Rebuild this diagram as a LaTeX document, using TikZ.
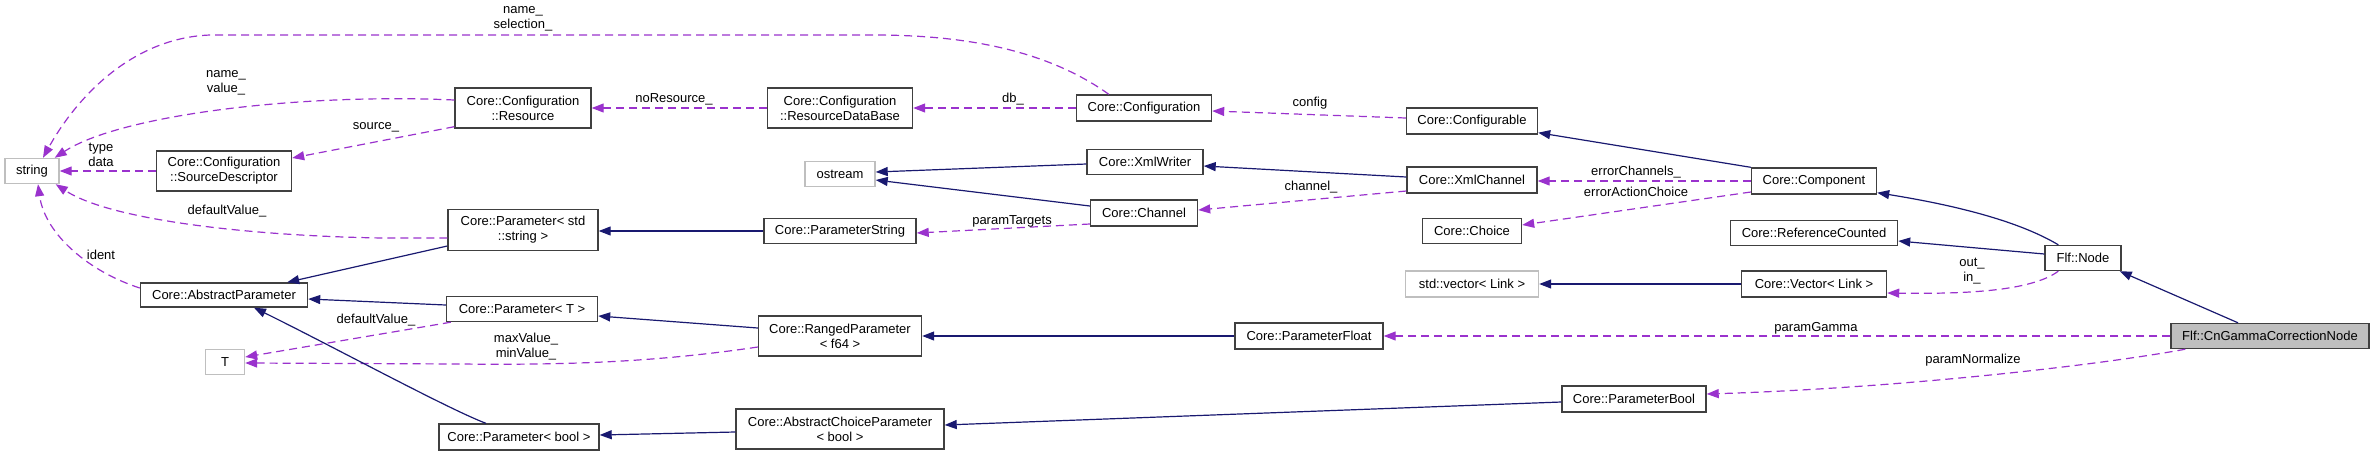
\documentclass[tikz,border=0pt]{standalone}
\usepackage{fontspec}
\setmainfont{Liberation Sans}
\usetikzlibrary{arrows.meta,calc}
\definecolor{inhcol}{RGB}{25,25,112}
\definecolor{usecol}{RGB}{154,50,205}
\definecolor{boxgray}{RGB}{191,191,191}
\definecolor{boxline}{RGB}{64,64,64}
\tikzset{
  box/.style={draw=boxline, line width=1.4pt, fill=white, inner sep=0pt, align=center,
    font=\fontsize{13}{15}\selectfont},
  extbox/.style={box, draw=boxgray},
  mainbox/.style={box, fill=boxgray},
  inh/.style={draw=inhcol, line width=1.2pt, -{Triangle[length=12pt,width=9pt]}},
  use/.style={draw=usecol, line width=1.2pt, dash pattern=on 8pt off 5pt,
    -{Triangle[length=12pt,width=9pt]}},
  lbl/.style={inner sep=0pt, align=center, font=\fontsize{13}{15}\selectfont}
}
\begin{document}
\begin{tikzpicture}[x=1pt,y=-1pt]
\useasboundingbox (0,0) rectangle (2375,456);
% nodes
\node[extbox, minimum width=54, minimum height=25] (str) at (32,171) {string};
\node[box, minimum width=135, minimum height=40] (sd) at (224,171) {Core::Configuration\\::SourceDescriptor};
\node[box, minimum width=136, minimum height=40] (res) at (523,108) {Core::Configuration\\::Resource};
\node[box, minimum width=150, minimum height=41] (pstr) at (523,230) {Core::Parameter< std\\::string >};
\node[box, minimum width=167, minimum height=24] (ap) at (224,295) {Core::AbstractParameter};
\node[box, minimum width=151, minimum height=25] (pt) at (522,309) {Core::Parameter< T >};
\node[extbox, minimum width=39, minimum height=25] (T) at (225,362) {T};
\node[box, minimum width=160, minimum height=26] (pb) at (519,437) {Core::Parameter< bool >};
\node[box, minimum width=145, minimum height=40] (rdb) at (840,108) {Core::Configuration\\::ResourceDataBase};
\node[box, minimum width=135, minimum height=26] (cfg) at (1144,108) {Core::Configuration};
\node[extbox, minimum width=70, minimum height=25] (os) at (840,174) {ostream};
\node[box, minimum width=116, minimum height=25] (xw) at (1145,162) {Core::XmlWriter};
\node[box, minimum width=107, minimum height=26] (ch) at (1144,213) {Core::Channel};
\node[box, minimum width=152, minimum height=25] (ps) at (840,231) {Core::ParameterString};
\node[box, minimum width=131, minimum height=26] (cfgb) at (1472,121) {Core::Configurable};
\node[box, minimum width=130, minimum height=26] (xc) at (1472,180) {Core::XmlChannel};
\node[box, minimum width=99, minimum height=25] (cho) at (1472,231) {Core::Choice};
\node[box, minimum width=125, minimum height=26] (comp) at (1814,181) {Core::Component};
\node[box, minimum width=167, minimum height=25] (rc) at (1814,233) {Core::ReferenceCounted};
\node[box, minimum width=76, minimum height=25] (node) at (2083,258) {Flf::Node};
\node[box, minimum width=145, minimum height=26] (vec) at (1814,284) {Core::Vector< Link >};
\node[extbox, minimum width=133, minimum height=26] (svec) at (1472,284) {std::vector< Link >};
\node[mainbox, minimum width=198, minimum height=25] (cgn) at (2270,336) {Flf::CnGammaCorrectionNode};
\node[box, minimum width=148, minimum height=26] (pf) at (1309,336) {Core::ParameterFloat};
\node[box, minimum width=163, minimum height=40] (rp) at (840,336) {Core::RangedParameter\\< f64 >};
\node[box, minimum width=144, minimum height=26] (pbool) at (1634,399) {Core::ParameterBool};
\node[box, minimum width=208, minimum height=40] (acp) at (840,429) {Core::AbstractChoiceParameter\\< bool >};
% usage edges (dashed)
\draw[use] ($(cfg.north west)+(33,0)$) .. controls (1040,45) and (950,35) .. (873,35) -- (210,35) .. controls (130,38) and (75,100) .. ($(str.north)+(11,0)$);
\draw[use] ($(res.west)+(0,-8)$) .. controls (300,93) and (120,115) .. ($(str.north east)+(-5,0)$);
\draw[use] (sd.west) -- (str.east);
\draw[use] ($(pstr.west)+(0,8)$) -- (383,238) .. controls (250,236) and (110,220) .. ($(str.south east)+(-4,0)$);
\draw[use] ($(ap.west)+(0,-7)$) .. controls (90,272) and (45,235) .. ($(str.south)+(6,0)$);
\draw[use] ($(res.south west)+(0,-2)$) -- ($(sd.east)+(0,-13)$);
\draw[use] (rdb.west) -- (res.east);
\draw[use] (cfg.west) -- (rdb.east);
\draw[use] ($(cfgb.west)+(0,-3)$) -- ($(cfg.east)+(0,3)$);
\draw[use] ($(xc.west)+(0,11)$) -- ($(ch.east)+(0,-3)$);
\draw[use] ($(ch.west)+(0,11)$) -- ($(ps.east)+(0,2)$);
\draw[use] ($(pt.south west)+(5,0)$) -- ($(T.east)+(0,-5)$);
\draw[use] ($(rp.west)+(0,11)$) .. controls (650,363) and (560,365) .. (460,364) -- ($(T.east)+(0,1)$);
\draw[use] (comp.west) -- (comp.west -| xc.east);
\draw[use] ($(comp.west)+(0,11)$) -- ($(cho.east)+(0,-6)$);
\draw[use] ($(node.south west)+(14,0)$) .. controls (2030,292) and (1960,294) .. ($(vec.east)+(0,9)$);
\draw[use] (cgn.west) -- (pf.east);
\draw[use] ($(cgn.south west)+(15,0)$) .. controls (2100,365) and (1900,388) .. ($(pbool.east)+(0,-5)$);
% inheritance edges (solid)
\draw[inh] ($(xw.west)+(0,2)$) -- ($(os.east)+(0,-2)$);
\draw[inh] ($(ch.west)+(0,-7)$) -- ($(os.east)+(0,6)$);
\draw[inh] ($(xc.west)+(0,-3)$) -- ($(xw.east)+(0,4)$);
\draw[inh] (ps.west) -- (ps.west -| pstr.east);
\draw[inh] ($(pstr.west)+(0,16)$) -- ($(ap.north east)+(-21,0)$);
\draw[inh] ($(pt.west)+(0,-4)$) -- ($(ap.east)+(0,4)$);
\draw[inh] ($(pb.north)+(-33,0)$) .. controls (450,410) and (330,345) .. ($(ap.south)+(30,0)$);
\draw[inh] ($(rp.west)+(0,-8)$) -- ($(pt.east)+(0,7)$);
\draw[inh] (pf.west) -- (rp.east);
\draw[inh] ($(acp.west)+(0,3)$) -- ($(pb.east)+(0,-2)$);
\draw[inh] ($(pbool.west)+(0,3)$) -- ($(acp.east)+(0,-4)$);
\draw[inh] (comp.north west) -- ($(cfgb.south east)+(0,-2)$);
\draw[inh] ($(node.north west)+(14,0)$) .. controls (2020,222) and (1960,206) .. ($(comp.south east)+(0,-2)$);
\draw[inh] ($(node.west)+(0,-4)$) -- ($(rc.east)+(0,8)$);
\draw[inh] (vec.west) -- (svec.east);
\draw[inh] ($(cgn.north)+(-32,0)$) -- ($(node.south east)+(-2,0)$);
% labels
\node[lbl] (l1) at (523,19) {name\_\\selection\_};
\node[lbl] (l2) at (226,83) {name\_\\value\_};
\node[lbl] (l3) at (101,155) {type\\data};
\node[lbl] (l4) at (227,211) {defaultValue\_};
\node[lbl] (l5) at (101,255) {ident};
\node[lbl] (l6) at (376,127) {source\_};
\node[lbl] (l7) at (674,99) {noResource\_};
\node[lbl] (l8) at (1013,99) {db\_};
\node[lbl] (l9) at (1310,103) {config};
\node[lbl] (l10) at (1012,221) {paramTargets};
\node[lbl] (l11) at (1311,187) {channel\_};
\node[lbl] (l12) at (1636,172) {errorChannels\_};
\node[lbl] (l13) at (1636,192) {errorActionChoice};
\node[lbl] (l14) at (1972,271) {out\_\\in\_};
\node[lbl] (l15) at (526,347) {maxValue\_\\minValue\_};
\node[lbl] (l16) at (376,320) {defaultValue\_};
\node[lbl] (l17) at (1816,328) {paramGamma};
\node[lbl] (l18) at (1973,360) {paramNormalize};
\end{tikzpicture}
\end{document}
